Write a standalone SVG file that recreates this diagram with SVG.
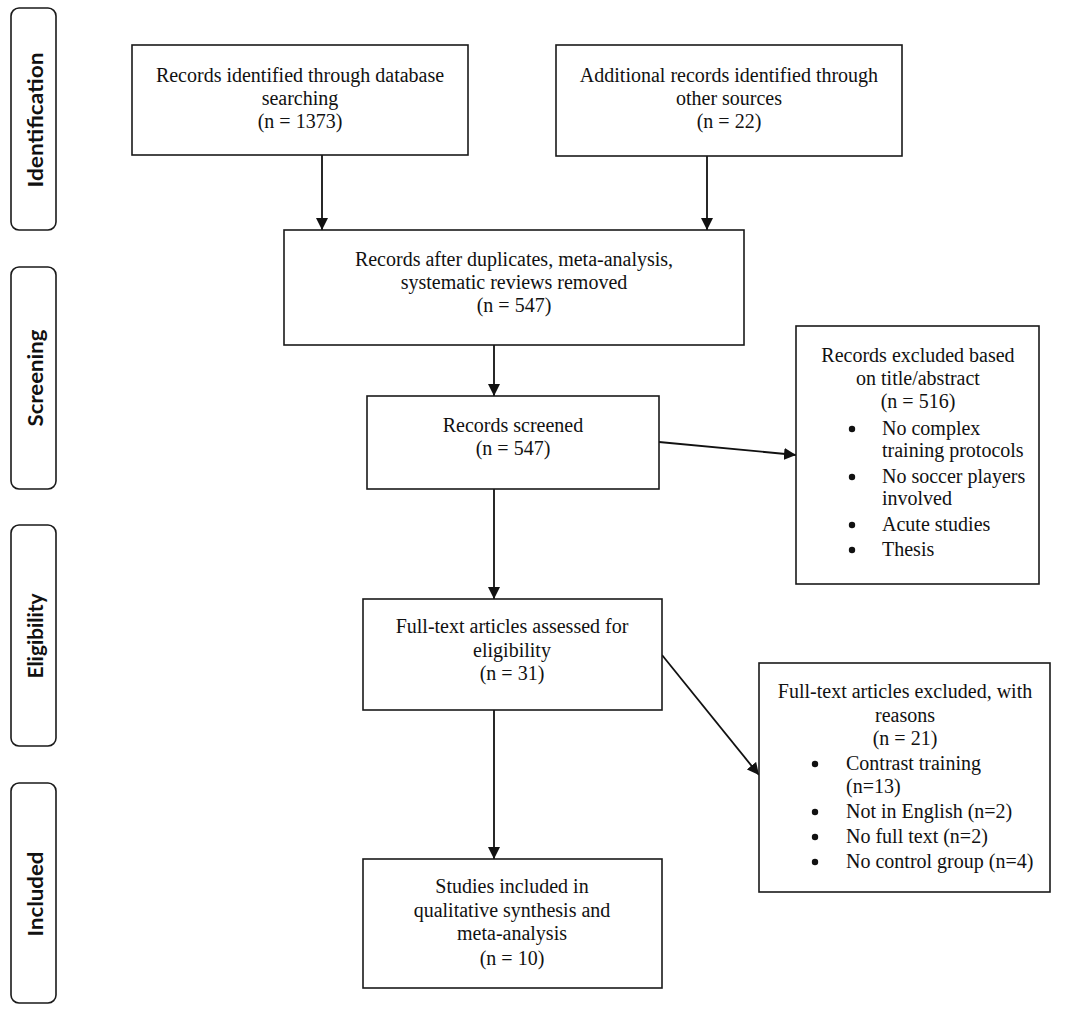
<svg xmlns="http://www.w3.org/2000/svg" width="1084" height="1015" viewBox="0 0 1084 1015">
<style>
.box{fill:#fff;stroke:#1a1a1a;stroke-width:1.6}
.phase{fill:#fff;stroke:#1a1a1a;stroke-width:1.6}
.t{font-family:"Liberation Serif","Times New Roman",serif;font-size:20px;fill:#111}
.c{text-anchor:middle}
.b{fill:#111}
.p{font-family:Lato,"Open Sans","Liberation Sans",sans-serif;font-weight:bold;font-size:21px;fill:#111;text-anchor:middle}
.ln{stroke:#111;stroke-width:1.8;fill:none;marker-end:url(#ah)}
</style>
<defs>
<marker id="ah" viewBox="0 0 12 12" refX="12" refY="6" markerWidth="12" markerHeight="12" markerUnits="userSpaceOnUse" orient="auto">
<path d="M0,0 L12,6 L0,12 Z" fill="#111"/>
</marker>
</defs>
<rect width="1084" height="1015" fill="#fff"/>
<g id="phase-identification"><rect class="phase" x="11" y="8" width="45" height="222" rx="8"/><text class="p" transform="translate(43,120) rotate(-90)" textLength="135" lengthAdjust="spacingAndGlyphs">Identification</text></g>
<g id="phase-screening"><rect class="phase" x="11" y="267" width="45" height="222" rx="8"/><text class="p" transform="translate(43,378) rotate(-90)" textLength="97" lengthAdjust="spacingAndGlyphs">Screening</text></g>
<g id="phase-eligibility"><rect class="phase" x="11" y="525" width="45" height="221" rx="8"/><text class="p" transform="translate(43,636) rotate(-90)" textLength="85" lengthAdjust="spacingAndGlyphs">Eligibility</text></g>
<g id="phase-included"><rect class="phase" x="11" y="783" width="45" height="220" rx="8"/><text class="p" transform="translate(43,894) rotate(-90)" textLength="85" lengthAdjust="spacingAndGlyphs">Included</text></g>

<g id="connectors">
<line class="ln" x1="322" y1="155" x2="322" y2="230"/>
<line class="ln" x1="707" y1="156" x2="707" y2="230"/>
<line class="ln" x1="494" y1="345" x2="494" y2="396"/>
<line class="ln" x1="494" y1="489" x2="494" y2="599"/>
<line class="ln" x1="659" y1="442" x2="796" y2="455"/>
<line class="ln" x1="494" y1="710" x2="494" y2="859"/>
<line class="ln" x1="662" y1="655" x2="759" y2="775"/>
</g>

<g id="n1"><rect class="box" x="132" y="45" width="336" height="110"/>
<text class="t c" x="300" y="82">Records identified through database</text>
<text class="t c" x="300" y="105">searching</text>
<text class="t c" x="300" y="128">(n = 1373)</text></g>

<g id="n2"><rect class="box" x="556" y="45" width="346" height="111"/>
<text class="t c" x="729" y="82">Additional records identified through</text>
<text class="t c" x="729" y="105">other sources</text>
<text class="t c" x="729" y="128">(n = 22)</text></g>

<g id="n3"><rect class="box" x="284" y="230" width="460" height="115"/>
<text class="t c" x="514" y="266">Records after duplicates, meta-analysis,</text>
<text class="t c" x="514" y="289">systematic reviews removed</text>
<text class="t c" x="514" y="312">(n = 547)</text></g>

<g id="n4"><rect class="box" x="367" y="396" width="292" height="93"/>
<text class="t c" x="513" y="432">Records screened</text>
<text class="t c" x="513" y="455">(n = 547)</text></g>

<g id="n5"><rect class="box" x="796" y="326" width="243" height="258"/>
<text class="t c" x="918" y="362">Records excluded based</text>
<text class="t c" x="918" y="385">on title/abstract</text>
<text class="t c" x="918" y="408">(n = 516)</text>
<circle class="b" cx="852" cy="429" r="3.2"/><text class="t" x="882" y="435">No complex</text>
<text class="t" x="882" y="457">training protocols</text>
<circle class="b" cx="852" cy="477" r="3.2"/><text class="t" x="882" y="483">No soccer players</text>
<text class="t" x="882" y="505">involved</text>
<circle class="b" cx="852" cy="525" r="3.2"/><text class="t" x="882" y="531">Acute studies</text>
<circle class="b" cx="852" cy="550" r="3.2"/><text class="t" x="882" y="556">Thesis</text></g>

<g id="n6"><rect class="box" x="363" y="599" width="299" height="111"/>
<text class="t c" x="512" y="633">Full-text articles assessed for</text>
<text class="t c" x="512" y="657">eligibility</text>
<text class="t c" x="512" y="680">(n = 31)</text></g>

<g id="n7"><rect class="box" x="759" y="663" width="291" height="229"/>
<text class="t c" x="905" y="698">Full-text articles excluded, with</text>
<text class="t c" x="905" y="722">reasons</text>
<text class="t c" x="905" y="745">(n = 21)</text>
<circle class="b" cx="815" cy="764" r="3.2"/><text class="t" x="846" y="770">Contrast training</text>
<text class="t" x="846" y="793">(n=13)</text>
<circle class="b" cx="815" cy="812" r="3.2"/><text class="t" x="846" y="818">Not in English (n=2)</text>
<circle class="b" cx="815" cy="837" r="3.2"/><text class="t" x="846" y="843">No full text (n=2)</text>
<circle class="b" cx="815" cy="862" r="3.2"/><text class="t" x="846" y="868">No control group (n=4)</text></g>

<g id="n8"><rect class="box" x="363" y="859" width="299" height="129"/>
<text class="t c" x="512" y="893">Studies included in</text>
<text class="t c" x="512" y="917">qualitative synthesis and</text>
<text class="t c" x="512" y="940">meta-analysis</text>
<text class="t c" x="512" y="965">(n = 10)</text></g>
</svg>
